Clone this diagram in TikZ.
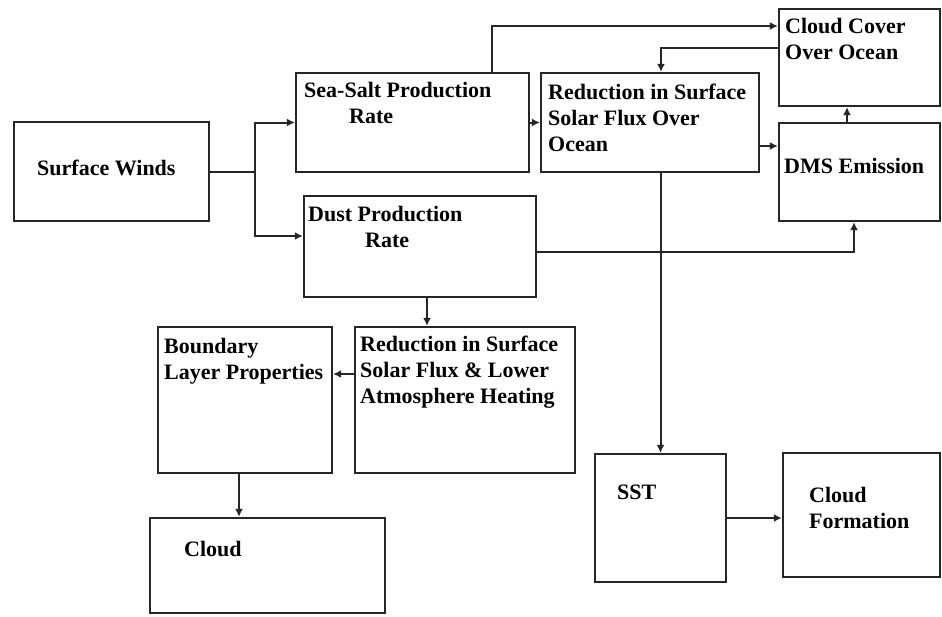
\documentclass[tikz,border=0pt]{standalone}
\usepackage{fontspec}
\setmainfont{Liberation Serif}
\usetikzlibrary{arrows.meta}
\begin{document}
\begin{tikzpicture}[x=1pt,y=-1pt,
  box/.style={draw=black!85,line width=2.3pt,inner sep=0pt},
  lbl/.style={anchor=base west,inner sep=0pt,font=\fontsize{22}{26}\selectfont\bfseries,text=black},
  conn/.style={draw=black!85,line width=2pt},
  arr/.style={conn,-{Latex[length=8pt,width=8pt]}}]
\useasboundingbox (0,0) rectangle (942,616);
% boxes
\node[box,minimum width=195pt,minimum height=99pt] (sw) at (111.5,171.5) {};
\node[box,minimum width=233pt,minimum height=99pt] (salt) at (412.5,122.5) {};
\node[box,minimum width=232pt,minimum height=101pt] (dust) at (420,246.5) {};
\node[box,minimum width=218pt,minimum height=99pt] (red) at (650,122.5) {};
\node[box,minimum width=161pt,minimum height=97pt] (ccover) at (859.5,57.5) {};
\node[box,minimum width=161pt,minimum height=98pt] (dms) at (859.5,172) {};
\node[box,minimum width=174pt,minimum height=146pt] (bnd) at (245,400) {};
\node[box,minimum width=220pt,minimum height=146pt] (red2) at (465,400) {};
\node[box,minimum width=235pt,minimum height=95pt] (cloud) at (267.5,565.5) {};
\node[box,minimum width=131pt,minimum height=128pt] (sst) at (660.5,518) {};
\node[box,minimum width=157pt,minimum height=124pt] (cf) at (861.5,515) {};
% texts
\node[lbl] (t-sw) at (37,175) {Surface Winds};
\node[lbl] (t-salt1) at (304,97) {Sea-Salt Production};
\node[lbl] (t-salt2) at (349,123) {Rate};
\node[lbl] (t-dust1) at (308,221) {Dust Production};
\node[lbl] (t-dust2) at (365,247) {Rate};
\node[lbl] (t-red1) at (548,99) {Reduction in Surface};
\node[lbl] (t-red2) at (548,125) {Solar Flux Over};
\node[lbl] (t-red3) at (548,151) {Ocean};
\node[lbl] (t-cc1) at (785,33) {Cloud Cover};
\node[lbl] (t-cc2) at (785,59) {Over Ocean};
\node[lbl] (t-dms) at (784,173) {DMS Emission};
\node[lbl] (t-bnd1) at (164,353) {Boundary};
\node[lbl] (t-bnd2) at (164,379) {Layer Properties};
\node[lbl] (t-rb1) at (360,351) {Reduction in Surface};
\node[lbl] (t-rb2) at (360,377) {Solar Flux \& Lower};
\node[lbl] (t-rb3) at (360,403) {Atmosphere Heating};
\node[lbl] (t-cloud) at (184,556) {Cloud};
\node[lbl] (t-sst) at (617,499) {SST};
\node[lbl] (t-cf1) at (809,502) {Cloud};
\node[lbl] (t-cf2) at (809,528) {Formation};
% helper coordinates
\coordinate (j1) at (255,171.5);
\coordinate (c1) at (492,26);
\coordinate (c2) at (661,48);
\coordinate (c3) at (770,146);
\coordinate (c4) at (847,115);
\coordinate (c5) at (854,252);
\coordinate (c6) at (427,310);
\coordinate (c7) at (343,374);
\coordinate (c8) at (239,495);
% connectors
\draw[conn] (sw.east) -- (j1);
\draw[arr] (j1) |- (salt.west);
\draw[arr] (j1) |- ([yshift=10.5pt]dust.west);
\draw[arr] (c1 |- salt.north) -- (c1) -- (c1 -| ccover.west);
\draw[arr] (c2 -| ccover.west) -- (c2) -- (c2 |- red.north);
\draw[arr] (salt.east) -- (red.west);
\draw[arr] (c3 -| red.east) -- (c3 -| dms.west);
\draw[arr] (c4 |- dms.north) -- (c4 |- ccover.south);
\draw[arr] (c5 -| dust.east) -- (c5) -- (c5 |- dms.south);
\draw[arr] (sst.north |- red.south) -- (sst.north);
\draw[arr] (c6 |- dust.south) -- (c6 |- red2.north);
\draw[arr] (c7 -| red2.west) -- (c7 -| bnd.east);
\draw[arr] (c8 |- bnd.south) -- (c8 |- cloud.north);
\draw[arr] (sst.east) -- (sst.east -| cf.west);
\end{tikzpicture}
\end{document}
